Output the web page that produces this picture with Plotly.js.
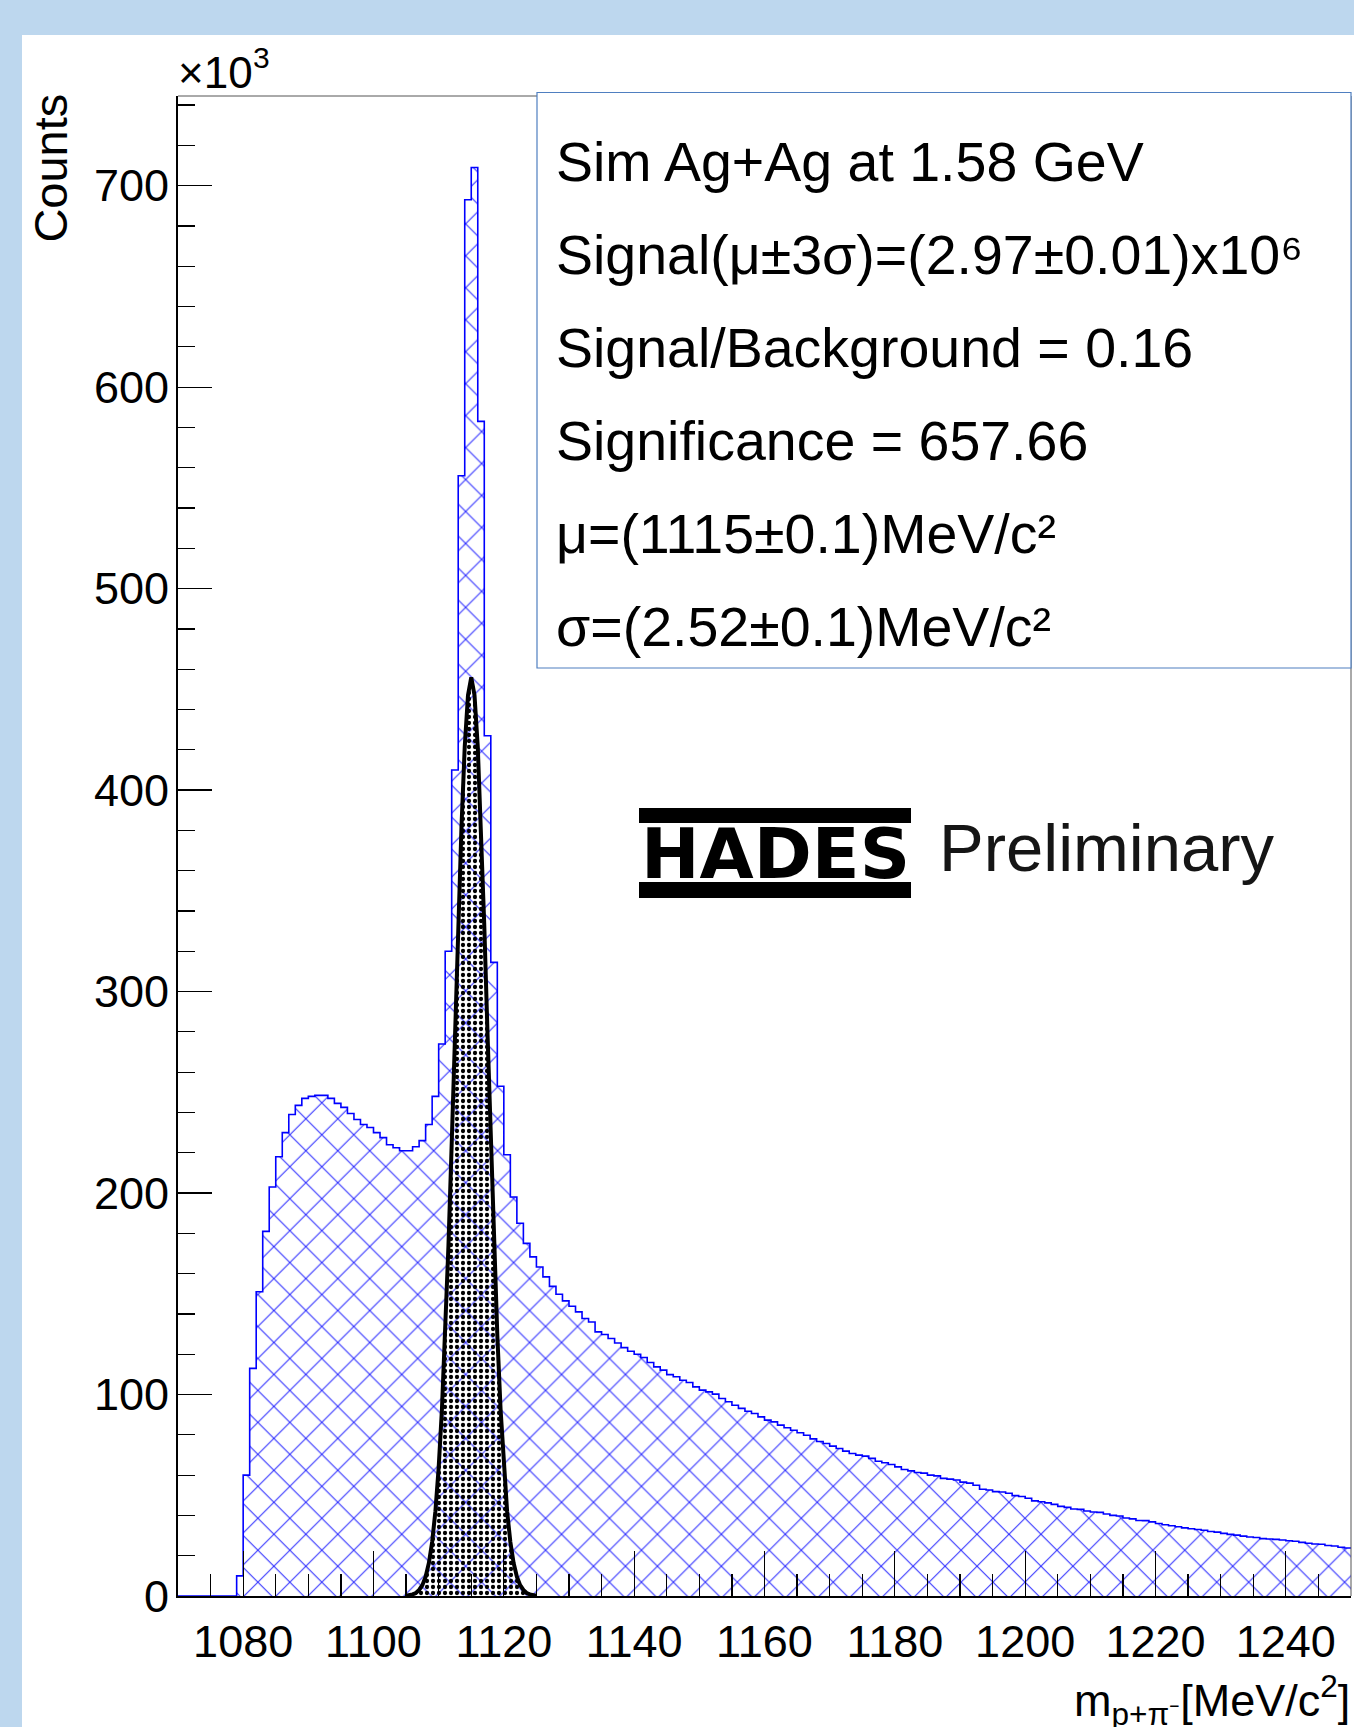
<!DOCTYPE html>
<html>
<head>
<meta charset="utf-8">
<script src="https://cdn.plot.ly/plotly-3.0.1.min.js"></script>
<style>
html,body{margin:0;padding:0;background:#bdd7ee;}
#chart{width:1354px;height:1727px;}
</style>
</head>
<body>
<div id="chart"></div>
<script>
// ---- data (counts in units of 10^3, 1 MeV/c^2 bins starting at 1070) ----
const binStart = 1070;
const binWidth = 1;
const countsK = [
  0, 0, 0, 0, 0, 0, 0, 0, 0, 10,            // 1070-1079
  60, 113, 151, 181, 203, 218, 230, 239, 243.5, 247,          // 1080-1089
  248, 248.5, 248.5, 247, 244.5, 242.5, 239.5, 236.5, 234, 232.5, // 1090-1099
  230, 227.5, 224, 222.5, 221, 221, 223, 226, 234, 248,       // 1100-1109
  274, 320, 410, 556, 693, 709, 583, 427, 314.5, 253,         // 1110-1119
  219, 198, 185, 175, 168.3, 163.3, 158.4, 153.7, 149.8, 146.5, // 1120-1129
  143.8, 141, 137.7, 136, 131.1, 129.8, 127.8, 125.6, 123.3, 121.5, // 1130-1139
  120, 118.4, 115.9, 113.7, 112.1, 109.9, 108.8, 107.1, 106, 103.8, // 1140-1149
  102.2, 101.3, 100.2, 98, 96.4, 94.7, 93.1, 91.7, 90.6, 88.9,   // 1150-1159
  87.3, 86.4, 84.8, 83.5, 82.3, 81, 79.8, 78, 76.7, 75.7,        // 1160-1169
  74.4, 73.2, 71.9, 70.7, 69.9, 69.4, 68.3, 66.9, 66.1, 65.3,    // 1170-1179
  64.1, 62.8, 62.1, 61.3, 61, 60, 59.6, 58.4, 58, 57.6,          // 1180-1189
  56.5, 56, 55, 53, 52.6, 51.8, 51.6, 51, 49.8, 49.4,            // 1190-1199
  48.5, 47.2, 46.8, 46.2, 45.5, 44.5, 44, 43.2, 43, 42.2,        // 1200-1209
  41.7, 41.5, 40.7, 40, 39.7, 38.7, 38.3, 37.5, 37.4, 36.8,      // 1210-1219
  36, 35.4, 34.9, 34.4, 33.8, 33.4, 33, 32.6, 32, 31.7,          // 1220-1229
  31.1, 30.6, 30.2, 29.7, 29.3, 29, 28.5, 28.3, 28.1, 27.8,      // 1230-1239
  27.4, 27.2, 26.6, 26.2, 25.8, 25.7, 25.1, 24.8, 24.2, 23.8     // 1240-1249
];
// fitted signal curve
const fitMass = [1105,1105.5,1106,1106.5,1107,1107.5,1108,1108.5,1109,1109.5,1110,1110.5,1111,1111.5,1112,1112.5,1113,1113.5,1114,1114.5,1115,
                 1115.5,1116,1116.5,1117,1117.5,1118,1118.5,1119,1119.5,1120,1120.5,1121,1121.5,1122,1122.5,1123,1123.5,1124,1124.5,1125];
const fitCountsK = [0.2,0.4,0.8,1.5,3.0,5.4,9.6,16.4,26.8,42.1,63.7,92.6,129.4,173.8,224.5,278.8,332.8,381.9,421.5,447.1,456,
                    447.1,421.5,381.9,332.8,278.8,224.5,173.8,129.4,92.6,63.7,42.1,26.8,16.4,9.6,5.4,3.0,1.5,0.8,0.4,0.2];
const xTickVals = [1080,1100,1120,1140,1160,1180,1200,1220,1240];
const xTickText = ['1080','1100','1120','1140','1160','1180','1200','1220','1240'];
const yTickVals = [0,100,200,300,400,500,600,700];
const yTickText = ['0','100','200','300','400','500','600','700'];
const statsLines = [
  'Sim Ag+Ag at 1.58 GeV',
  'Signal(μ±3σ)=(2.97±0.01)x10⁶',
  'Signal/Background = 0.16',
  'Significance = 657.66',
  'μ=(1115±0.1)MeV/c²',
  'σ=(2.52±0.1)MeV/c²'
];

// ---- build step histogram from bins ----
const histX = [], histY = [];
for (let i = 0; i < countsK.length; i++) {
  histX.push(binStart + i * binWidth);
  histY.push(countsK[i]);
}
histX.push(binStart + countsK.length * binWidth);
histY.push(countsK[countsK.length - 1]);

// ---- pixel helpers for layout placement ----
const W = 1354, H = 1727;
const L = 178, R = 1351, T = 96, B = 1596;
const PX = p => (p - L) / (R - L);
const PY = p => (B - p) / (B - T);
const FONT = 'Liberation Sans, Arial, sans-serif';

const traces = [
  {
    type: 'scatter', mode: 'lines', x: histX, y: histY,
    line: {shape: 'hv', color: '#0000ff', width: 1.6},
    fill: 'tozeroy', fillcolor: 'rgba(0,0,0,0)',
    fillpattern: {shape: 'x', size: 22.6, solidity: 0.09, fgcolor: '#2a2aff', bgcolor: 'rgba(0,0,0,0)'},
    hoverinfo: 'skip', showlegend: false
  },
  {
    type: 'scatter', mode: 'lines', x: fitMass, y: fitCountsK,
    line: {color: '#000000', width: 4},
    fill: 'tozeroy', fillcolor: 'rgba(0,0,0,0)',
    fillpattern: {shape: '.', size: 6, solidity: 0.4, fgcolor: '#000000', bgcolor: 'rgba(0,0,0,0)'},
    hoverinfo: 'skip', showlegend: false
  }
];

const shapes = [
  {type:'rect', xref:'paper', yref:'paper', x0:PX(22), x1:PX(1400), y0:PY(1760), y1:PY(35),
   fillcolor:'#ffffff', line:{width:0}, layer:'below'},
  {type:'line', xref:'paper', yref:'paper', x0:0, x1:1, y0:1, y1:1, line:{color:'#555555', width:1}, layer:'above'},
  {type:'line', xref:'paper', yref:'paper', x0:1, x1:1, y0:0, y1:1, line:{color:'#555555', width:1}, layer:'above'},
  {type:'rect', xref:'paper', yref:'paper', x0:PX(537), x1:PX(1351), y0:PY(668), y1:PY(92.5),
   fillcolor:'#ffffff', line:{color:'#4f7fc0', width:1.2}, layer:'above'},
  {type:'rect', xref:'paper', yref:'paper', x0:PX(639), x1:PX(911), y0:PY(823), y1:PY(808),
   fillcolor:'#000000', line:{width:0}, layer:'above'},
  {type:'rect', xref:'paper', yref:'paper', x0:PX(639), x1:PX(911), y0:PY(898), y1:PY(882),
   fillcolor:'#000000', line:{width:0}, layer:'above'}
];

const baselines = [181.4, 274.4, 367.4, 460.4, 553.4, 646.4];
const annotations = statsLines.map((t, i) => ({
  text: t, xref:'paper', yref:'paper', x: PX(554), y: PY(baselines[i] - 19),
  xanchor:'left', yanchor:'middle', showarrow:false,
  font:{family: FONT, size: 55.5, color:'#000000'}
}));
annotations.push(
  {text:'HADES', xref:'paper', yref:'paper', x:PX(775), y:PY(854), xanchor:'center', yanchor:'middle',
   showarrow:false, font:{family:'DejaVu Sans, sans-serif', size:70, color:'#000000', weight:'bold'}},
  {text:'Preliminary', xref:'paper', yref:'paper', x:PX(937), y:PY(847.5), xanchor:'left', yanchor:'middle',
   showarrow:false, font:{family: FONT, size:67, color:'#151515'}},
  {text:'Counts', xref:'paper', yref:'paper', x:PX(49.6), y:PY(168), xanchor:'center', yanchor:'middle',
   textangle:-90, showarrow:false, font:{family: FONT, size:47, color:'#000000'}},
  {text:'×10', xref:'paper', yref:'paper', x:PX(176), y:PY(73), xanchor:'left', yanchor:'middle',
   showarrow:false, font:{family: FONT, size:44, color:'#000000'}},
  {text:'3', xref:'paper', yref:'paper', x:PX(251), y:PY(58), xanchor:'left', yanchor:'middle',
   showarrow:false, font:{family: FONT, size:30, color:'#000000'}},
  {text:'m<sub>p+π⁻</sub>[MeV/c<sup>2</sup>]', xref:'paper', yref:'paper', x:PX(1352), y:PY(1700), xanchor:'right', yanchor:'middle',
   showarrow:false, font:{family: FONT, size:45, color:'#000000'}}
);

const layout = {
  width: W, height: H,
  margin: {l: L, r: W - R, t: T, b: H - B, pad: 0},
  paper_bgcolor: '#bdd7ee',
  plot_bgcolor: '#ffffff',
  showlegend: false,
  font: {family: FONT, color: '#000000'},
  xaxis: {
    range: [1070, 1250], showgrid:false, zeroline:false,
    showline:true, linecolor:'#000000', linewidth:2, mirror:false,
    ticks:'inside', ticklen:45, tickwidth:1.2, tickcolor:'#000000',
    tickmode:'array', tickvals: xTickVals, ticktext: xTickText,
    tickfont:{family: FONT, size:45, color:'#000000'},
    ticklabelstandoff: 5,
    minor:{ticks:'inside', ticklen:22, dtick:5, tick0:1070, tickwidth:1.2, tickcolor:'#000000', showgrid:false}
  },
  yaxis: {
    range: [0, 744.5], showgrid:false, zeroline:false,
    showline:true, linecolor:'#000000', linewidth:2, mirror:false,
    ticks:'inside', ticklen:34, tickwidth:1.2, tickcolor:'#000000',
    tickmode:'array', tickvals: yTickVals, ticktext: yTickText,
    tickfont:{family: FONT, size:45, color:'#000000'},
    ticklabelstandoff: -2,
    minor:{ticks:'inside', ticklen:17, dtick:20, tick0:0, tickwidth:1.2, tickcolor:'#000000', showgrid:false}
  },
  shapes: shapes,
  annotations: annotations
};

Plotly.newPlot('chart', traces, layout, {staticPlot:true, displayModeBar:false});
</script>
</body>
</html>
